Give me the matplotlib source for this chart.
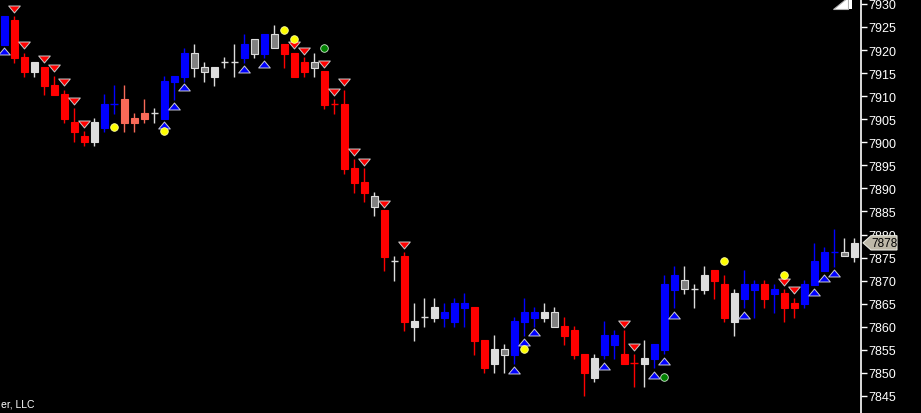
import matplotlib
matplotlib.use("Agg")
import matplotlib.pyplot as plt
from matplotlib.patches import Polygon
from matplotlib.path import Path
from matplotlib.transforms import blended_transform_factory

# OHLC
opens = [7921.2, 7926.5, 7918.5, 7915.2, 7916.3, 7912.4, 7910.5, 7904.4, 7901.4, 7900.1,
         7903.1, 7908.2, 7909.4, 7905.3, 7906.4, 7906.4, 7905.1, 7913.1, 7914.2, 7916.1,
         7915.2, 7914.2, 7917.4, 7917.4, 7918.3, 7919.2, 7919.2, 7920.5, 7921.3, 7919.4,
         7917.4, 7916.1, 7915.5, 7908.3, 7908.3, 7894.4, 7891.4, 7886.0, 7885.3, 7874.3,
         7875.4, 7860.0, 7862.1, 7861.9, 7861.9, 7861.0, 7864.1, 7864.3, 7857.1, 7851.9,
         7853.9, 7853.9, 7861.0, 7861.9, 7861.9, 7860.0, 7860.2, 7859.3, 7854.1, 7848.9,
         7853.9, 7856.1, 7854.1, 7852.2, 7851.9, 7853.0, 7855.0, 7868.0, 7868.2, 7868.2,
         7868.0, 7872.3, 7869.3, 7861.0, 7866.0, 7868.0, 7869.3, 7867.1, 7867.3, 7865.2,
         7864.9, 7869.1, 7872.1, 7876.2, 7875.3, 7875.1]
highs = [7927.4, 7927.4, 7919.4, 7917.4, 7916.3, 7914.4, 7911.3, 7907.4, 7902.5, 7905.3,
         7910.5, 7912.4, 7912.4, 7906.4, 7909.4, 7907.4, 7914.4, 7914.4, 7920.5, 7921.3,
         7917.4, 7916.3, 7918.5, 7921.3, 7923.5, 7922.4, 7923.5, 7925.4, 7921.3, 7919.4,
         7918.5, 7919.4, 7915.5, 7909.4, 7911.3, 7896.4, 7894.4, 7889.2, 7885.3, 7875.4,
         7876.2, 7865.2, 7866.2, 7866.2, 7865.2, 7866.2, 7867.3, 7864.3, 7857.1, 7858.2,
         7856.3, 7862.1, 7866.2, 7864.3, 7865.2, 7864.3, 7862.1, 7860.2, 7854.1, 7854.1,
         7861.3, 7859.3, 7859.3, 7854.1, 7857.1, 7856.3, 7871.2, 7873.2, 7873.2, 7869.3,
         7873.2, 7872.3, 7871.2, 7868.2, 7872.3, 7870.1, 7870.1, 7869.3, 7868.2, 7866.2,
         7870.1, 7878.2, 7877.3, 7881.2, 7879.3, 7879.3]
lows = [7921.2, 7917.3, 7914.2, 7914.2, 7910.3, 7910.3, 7904.2, 7900.1, 7899.2, 7899.2,
        7902.2, 7906.1, 7902.2, 7902.2, 7904.2, 7904.2, 7905.1, 7909.2, 7913.1, 7914.2,
        7913.1, 7912.2, 7916.1, 7914.2, 7917.2, 7918.3, 7918.3, 7920.5, 7916.1, 7914.2,
        7914.2, 7914.2, 7907.2, 7906.1, 7893.1, 7889.0, 7887.1, 7884.0, 7872.1, 7869.9,
        7859.1, 7856.9, 7860.0, 7861.0, 7860.0, 7860.0, 7860.0, 7853.9, 7850.0, 7850.0,
        7850.0, 7851.9, 7858.0, 7860.0, 7861.0, 7860.0, 7856.1, 7853.0, 7845.0, 7848.0,
        7853.0, 7853.0, 7851.9, 7847.0, 7847.0, 7851.1, 7854.1, 7864.1, 7867.1, 7864.1,
        7867.1, 7866.0, 7861.0, 7858.0, 7864.1, 7861.9, 7864.1, 7863.0, 7861.0, 7861.9,
        7864.1, 7869.1, 7872.1, 7873.0, 7875.3, 7874.1]
closes = [7927.4, 7918.3, 7915.2, 7917.4, 7912.2, 7910.3, 7905.1, 7902.2, 7900.1, 7904.4,
          7908.3, 7908.2, 7904.2, 7904.2, 7905.1, 7906.4, 7913.3, 7914.4, 7919.4, 7919.4,
          7916.3, 7916.3, 7917.4, 7917.4, 7921.3, 7922.4, 7923.5, 7923.5, 7919.2, 7914.2,
          7915.2, 7917.4, 7908.1, 7908.3, 7894.2, 7891.2, 7889.0, 7888.4, 7875.1, 7874.3,
          7861.0, 7861.3, 7862.1, 7864.3, 7863.2, 7865.2, 7865.2, 7856.9, 7851.1, 7855.2,
          7855.2, 7861.3, 7863.2, 7863.2, 7863.2, 7863.2, 7858.0, 7853.9, 7850.0, 7853.2,
          7858.2, 7858.2, 7851.9, 7852.2, 7853.2, 7856.3, 7869.3, 7871.2, 7870.1, 7868.2,
          7871.2, 7869.9, 7861.9, 7867.3, 7869.3, 7869.3, 7866.0, 7868.2, 7864.1, 7864.1,
          7869.3, 7874.3, 7876.2, 7876.2, 7876.2, 7878.2]
# b blue, r red, w light gray, g dark gray, s salmon
kinds = list("brrwrrrrrw" "bbsssw" "bbbg" "gwwwbgbgrr" "rgrrrrrgrw"
             "rwwwbbbrrw" "gbbbwgrrrw" "bbrrwbbbgw" "wrrwbbrbrr" "bbbbgw")

up_idx = [0, 16, 17, 18, 24, 26, 51, 52, 53, 60, 65, 66, 67, 74, 81, 82, 83]
up_price = [7919.9, 7903.8, 7907.8, 7911.9, 7915.8, 7916.9, 7850.7, 7856.6, 7858.8,
            7851.5, 7849.5, 7852.6, 7862.5, 7862.5, 7867.5, 7870.5, 7871.7]
down_idx = [1, 2, 4, 5, 6, 7, 8, 29, 30, 32, 33, 34, 35, 36, 38, 40, 62, 63, 78, 79]
down_price = [7929.0, 7921.0, 7918.0, 7916.0, 7913.0, 7908.9, 7903.9, 7921.0, 7919.9,
              7916.9, 7911.0, 7913.0, 7897.8, 7895.8, 7886.7, 7877.8, 7860.6, 7855.6,
              7869.8, 7867.9]
yellow_idx = [11, 16, 28, 29, 52, 72, 78]
yellow_price = [7903.3, 7902.4, 7924.3, 7922.4, 7855.2, 7874.3, 7871.2]
green_idx = [32, 66]
green_price = [7920.4, 7849.1]

yticks = list(range(7845, 7931, 5))

body_col = {"b": "#0000FF", "r": "#FF0000", "w": "#DCDCDC", "g": "#808080", "s": "#F86A58"}
wick_col = {"b": "#0000FF", "r": "#FF0000", "w": "#DCDCDC", "g": "#DCDCDC", "s": "#F86A58"}

fig = plt.figure(figsize=(9.21, 4.14), dpi=100, facecolor="black")
ax = fig.add_axes([0, 0, 861 / 921, 1])
ax.set_facecolor("black")

for i in range(len(opens)):
    k = kinds[i]
    ax.vlines(i, lows[i], highs[i], color=wick_col[k], lw=1.0, zorder=2)
    lo, hi = min(opens[i], closes[i]), max(opens[i], closes[i])
    if hi - lo < 0.05:
        ax.hlines(lo, i - 0.38, i + 0.38, color=wick_col[k], lw=1.0, zorder=3)
    else:
        edge = "#DCDCDC" if k == "g" else body_col[k]
        ax.bar(i, hi - lo, bottom=lo, width=0.68, color=body_col[k],
               edgecolor=edge, linewidth=0.8, zorder=3)

tri_up = Path([(-5, -3), (5, -3), (0, 3), (-5, -3)], closed=True)
tri_dn = Path([(-5, 3), (5, 3), (0, -3), (-5, 3)], closed=True)
ax.scatter(up_idx, up_price, marker=tri_up, s=70, color="#0000FF",
           edgecolors="#C8C8D8", linewidths=0.7, zorder=4)
ax.scatter(down_idx, down_price, marker=tri_dn, s=70, color="#FF0000",
           edgecolors="#C8C8C8", linewidths=0.7, zorder=4)
ax.scatter(yellow_idx, yellow_price, s=30, color="#FFFF00",
           edgecolors="#FFFFA0", linewidths=0.6, zorder=4)
ax.scatter(green_idx, green_price, s=30, color="#008000",
           edgecolors="#D0E8D0", linewidths=0.6, zorder=4)

ax.set_xlim(-0.43, 85.67)
ax.set_ylim(7841.3, 7931.07)
ax.set_xticks([])
ax.yaxis.tick_right()
ax.set_yticks(yticks)
ax.set_yticklabels([str(t) for t in yticks], fontfamily="Liberation Sans", fontsize=9)
ax.tick_params(axis="y", colors="white", length=4, width=1, pad=1)
for side in ["top", "bottom", "left"]:
    ax.spines[side].set_visible(False)
ax.spines["right"].set_color("white")
ax.spines["right"].set_linewidth(1.2)

# last price tag
tr = blended_transform_factory(ax.transAxes, ax.transData)
last = closes[-1]
tag = Polygon([(1.0023, last), (1.0116, last + 1.55), (1.0418, last + 1.55),
               (1.0418, last - 1.55), (1.0116, last - 1.55)], closed=True,
              transform=tr, clip_on=False, facecolor="#BDB8A8",
              edgecolor="#E8E8E0", linewidth=0.8, zorder=10)
ax.add_patch(tag)
ax.text(1.0268, last, "%d" % round(last), transform=tr, color="black",
        fontfamily="Liberation Sans", fontsize=8.5, ha="center", va="center",
        zorder=11, clip_on=False)

# corner icon and copyright stub
fig.patches.append(Polygon([(833 / 921, 1 - 10 / 414), (848 / 921, 1 - 10 / 414),
                            (848 / 921, 1.005)], closed=True,
                           transform=fig.transFigure, facecolor="white",
                           edgecolor="#B0B0B0", linewidth=0.8))
fig.patches.append(Polygon([(849 / 921, 1 - 10 / 414), (852 / 921, 1 - 10 / 414),
                            (852 / 921, 1.01), (849 / 921, 1.01)], closed=True,
                           transform=fig.transFigure, facecolor="white", edgecolor="none"))
fig.text(1 / 921, 4 / 414, "er, LLC", color="white", fontfamily="Liberation Sans",
         fontsize=7.5, ha="left", va="bottom")

fig.savefig("out.png", dpi=100, facecolor="black")
